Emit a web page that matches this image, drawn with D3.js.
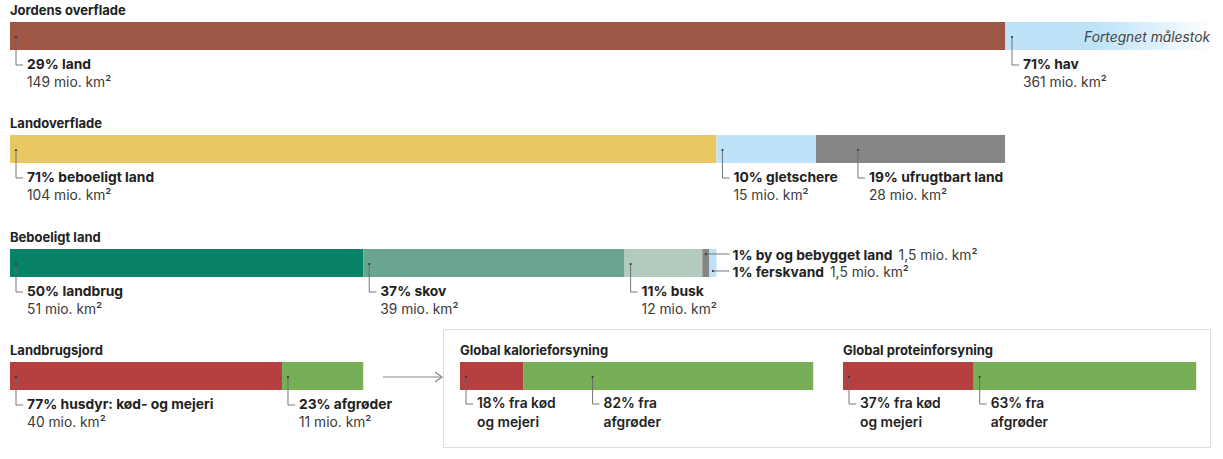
<!DOCTYPE html>
<html>
<head>
<meta charset="utf-8">
<script src="https://cdn.jsdelivr.net/npm/d3@7"></script>
<style>
  body { margin: 0; background: #fff; }
  svg { display: block; font-family: Inter, "Liberation Sans", sans-serif; }
</style>
</head>
<body>
<svg id="chart"></svg>
<script>
// data
const earthLabels = ["land", "hav"];
const earthPct = [29, 71];
const earthArea = ["149", "361"];

const landLabels = ["beboeligt land", "gletschere", "ufrugtbart land"];
const landPct = [71, 10, 19];
const landArea = ["104", "15", "28"];

const habLabels = ["landbrug", "skov", "busk", "by og bebygget land", "ferskvand"];
const habPct = [50, 37, 11, 1, 1];
const habArea = ["51", "39", "12", "1,5", "1,5"];

const agriLabels = ["husdyr: kød- og mejeri", "afgrøder"];
const agriPct = [77, 23];
const agriArea = ["40", "11"];

const supplyLabels = [["fra kød", "og mejeri"], ["fra", "afgrøder"]];
const caloriePct = [18, 82];
const proteinPct = [37, 63];

const titles = ["Jordens overflade", "Landoverflade", "Beboeligt land", "Landbrugsjord",
                "Global kalorieforsyning", "Global proteinforsyning"];

// colours
const cRed = "#b5403f", cGreen = "#77af58", cBlue = "#bee3f8";
const earthColors = ["#9e5645", cBlue];
const landColors = ["#e9c864", cBlue, "#868686"];
const habColors = ["#078266", "#6aa68f", "#b3cbbf", "#858585", cBlue];
const agriColors = [cRed, cGreen];

const width = 1223, height = 459;
const barH = 28;
const fs = 13.8;
const svg = d3.select("#chart").attr("width", width).attr("height", height);

const defs = svg.append("defs");
const grad = defs.append("linearGradient").attr("id", "seaFade");
grad.append("stop").attr("offset", "0%").attr("stop-color", cBlue);
grad.append("stop").attr("offset", "45%").attr("stop-color", cBlue);
grad.append("stop").attr("offset", "100%").attr("stop-color", cBlue).attr("stop-opacity", 0);

function title(x, top, text) {
    svg.append("text")
        .attr("x", x).attr("y", top - 7)
        .attr("font-size", 13).attr("font-weight", 700).attr("fill", "#222")
        .text(text);
}

function leader(tx, top, labelY) {
    const dotY = top + 15;
    svg.append("path")
        .attr("d", `M${tx},${dotY}V${labelY - 4}H${tx + 7}`)
        .attr("fill", "none").attr("stroke", "#666").attr("stroke-width", 0.9);
    svg.append("circle").attr("cx", tx).attr("cy", dotY).attr("r", 1.1).attr("fill", "#333");
}

function areaLabel(tx, top, pct, name, area) {
    const y1 = top + barH + 19;
    leader(tx, top, y1);
    svg.append("text").attr("x", tx + 11).attr("y", y1)
        .attr("font-size", fs).attr("font-weight", 700).attr("fill", "#222")
        .text(`${pct}% ${name}`);
    svg.append("text").attr("x", tx + 11).attr("y", y1 + 18)
        .attr("font-size", fs).attr("fill", "#3a3a3a")
        .text(`${area} mio. km²`);
}

function segments(x, pct, colors, top) {
    const ends = d3.cumsum(pct);
    const starts = ends.map((e, i) => e - pct[i]);
    svg.append("g").selectAll("rect")
        .data(pct)
        .join("rect")
        .attr("x", (d, i) => x(starts[i]))
        .attr("y", top)
        .attr("width", (d, i) => x(ends[i]) - x(starts[i]))
        .attr("height", barH)
        .attr("fill", (d, i) => colors[i]);
    return starts;
}

// label shift from segment start (px)
const tickShift = 6;

// Row 1: Jordens overflade (land drawn to scale, ocean cut off)
const top1 = 22;
const x1 = d3.scaleLinear().domain([0, earthPct[0]]).range([10, 1005]);
title(10, top1, titles[0]);
svg.append("rect").attr("x", x1(0)).attr("y", top1)
    .attr("width", x1(earthPct[0]) - x1(0)).attr("height", barH).attr("fill", earthColors[0]);
svg.append("rect").attr("x", x1(earthPct[0])).attr("y", top1)
    .attr("width", Math.min(x1(100), 1212) - x1(earthPct[0])).attr("height", barH)
    .attr("fill", "url(#seaFade)");
svg.append("text").attr("x", 1210).attr("y", top1 + 20).attr("text-anchor", "end")
    .attr("font-size", fs).attr("font-style", "italic").attr("fill", "#444")
    .text("Fortegnet målestok");
areaLabel(x1(0) + tickShift, top1, earthPct[0], earthLabels[0], earthArea[0]);
areaLabel(x1(earthPct[0]) + tickShift + 1, top1, earthPct[1], earthLabels[1], earthArea[1]);

// Row 2: Landoverflade
const top2 = 135;
const x2 = d3.scaleLinear().domain([0, 100]).range([10, 1005]);
title(10, top2, titles[1]);
const s2 = segments(x2, landPct, landColors, top2);
const shift2 = [tickShift, tickShift, 42];
landPct.forEach((p, i) => areaLabel(x2(s2[i]) + shift2[i], top2, p, landLabels[i], landArea[i]));

// Row 3: Beboeligt land
const top3 = 249;
const x3 = d3.scaleLinear().domain([0, 100]).range([x2(0), x2(landPct[0])]);
title(10, top3, titles[2]);
const s3 = segments(x3, habPct, habColors, top3);
for (let i = 0; i < 3; i++) areaLabel(x3(s3[i]) + tickShift, top3, habPct[i], habLabels[i], habArea[i]);
[3, 4].forEach((i, k) => {
    const mx = (x3(s3[i]) + x3(s3[i] + habPct[i])) / 2;
    const base = 260 + k * 17;
    svg.append("path").attr("d", `M${mx},${base - 6}H${x3(100) + 13}`)
        .attr("stroke", "#666").attr("stroke-width", 0.9);
    svg.append("circle").attr("cx", mx).attr("cy", base - 6).attr("r", 1.1).attr("fill", "#333");
    const t = svg.append("text").attr("x", x3(100) + 16).attr("y", base).attr("font-size", fs);
    t.append("tspan").attr("font-weight", 700).attr("fill", "#222").text(`${habPct[i]}% ${habLabels[i]}`);
    t.append("tspan").attr("dx", 6).attr("fill", "#3a3a3a").text(`${habArea[i]} mio. km²`);
});

// Row 4: Landbrugsjord
const top4 = 362;
const x4 = d3.scaleLinear().domain([0, 100]).range([x3(0), x3(habPct[0])]);
title(10, top4, titles[3]);
const s4 = segments(x4, agriPct, agriColors, top4);
agriPct.forEach((p, i) => areaLabel(x4(s4[i]) + tickShift, top4, p, agriLabels[i], agriArea[i]));

// arrow
svg.append("line").attr("x1", 383).attr("x2", 442).attr("y1", top4 + 15).attr("y2", top4 + 15)
    .attr("stroke", "#888").attr("stroke-width", 1.2);
svg.append("path").attr("d", `M435,${top4 + 10}L442,${top4 + 15}L435,${top4 + 20}`)
    .attr("fill", "none").attr("stroke", "#888").attr("stroke-width", 1.2);

// supply box
svg.append("rect").attr("x", 443.5).attr("y", 329.5).attr("width", 767).attr("height", 118)
    .attr("fill", "none").attr("stroke", "#dedede");

function supplyBar(x0, pct, ttl, shifts) {
    const w = x4(100) - x4(0);
    const x = d3.scaleLinear().domain([0, 100]).range([x0, x0 + w]);
    title(x0, top4, ttl);
    const s = segments(x, pct, agriColors, top4);
    pct.forEach((p, i) => {
        const tx = x(s[i]) + shifts[i];
        const y1 = top4 + barH + 18;
        leader(tx, top4, y1);
        svg.append("text").attr("x", tx + 11).attr("y", y1)
            .attr("font-size", fs).attr("font-weight", 600).attr("fill", "#222")
            .text(`${p}% ${supplyLabels[i][0]}`);
        svg.append("text").attr("x", tx + 11).attr("y", y1 + 19)
            .attr("font-size", fs).attr("font-weight", 600).attr("fill", "#222")
            .text(supplyLabels[i][1]);
    });
}
supplyBar(460, caloriePct, titles[4], [tickShift, 69]);
supplyBar(843, proteinPct, titles[5], [tickShift, tickShift]);
</script>
</body>
</html>
